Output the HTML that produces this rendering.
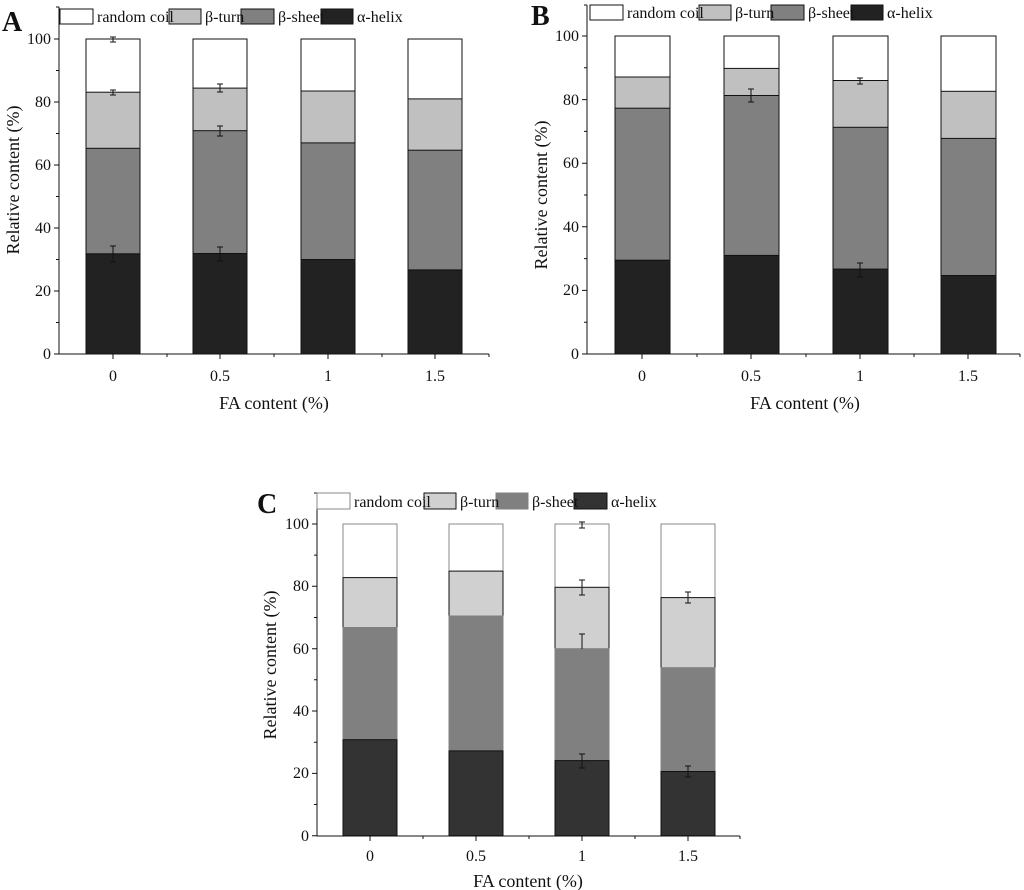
<!DOCTYPE html>
<html><head><meta charset="utf-8"><style>
html,body{margin:0;padding:0;background:#fff}
svg{display:block}
text{font-family:"Liberation Serif",serif;fill:#111}
</style></head><body>
<svg width="1024" height="890" viewBox="0 0 1024 890" xmlns="http://www.w3.org/2000/svg">
<g stroke="#111" stroke-width="1">
<!-- Panel A -->
<rect x="86" y="39" width="54" height="315" fill="#fff"/><rect x="86" y="92.2" width="54" height="261.8" fill="#c0c0c0"/><rect x="86" y="148.3" width="54" height="205.7" fill="#808080"/><rect x="86" y="253.8" width="54" height="100.2" fill="#222"/>
<rect x="193" y="39" width="54" height="315" fill="#fff"/><rect x="193" y="88.1" width="54" height="265.9" fill="#c0c0c0"/><rect x="193" y="130.7" width="54" height="223.3" fill="#808080"/><rect x="193" y="253.5" width="54" height="100.5" fill="#222"/>
<rect x="301" y="39" width="54" height="315" fill="#fff"/><rect x="301" y="91" width="54" height="263" fill="#c0c0c0"/><rect x="301" y="142.9" width="54" height="211.1" fill="#808080"/><rect x="301" y="259.5" width="54" height="94.5" fill="#222"/>
<rect x="408" y="39" width="54" height="315" fill="#fff"/><rect x="408" y="98.9" width="54" height="255.1" fill="#c0c0c0"/><rect x="408" y="150.2" width="54" height="203.8" fill="#808080"/><rect x="408" y="269.9" width="54" height="84.1" fill="#222"/>
<path d="M113 37v5M110 37h6M110 42h6M113 90v5M110 90h6M110 95h6M113 246v16M110 246h6M110 262h6M220 126v10M217 126h6M217 136h6M220 247v14M217 247h6M217 261h6M220 84v8M217 84h6M217 92h6"/>
<path d="M59 7V354H489" fill="none"/>
<path d="M59 354h-5M59 291h-5M59 228h-5M59 165h-5M59 102h-5M59 39h-5M59 322.5h-3M59 259.5h-3M59 196.5h-3M59 133.5h-3M59 70.5h-3M59 7h-3"/>
<path d="M113 354v5M220 354v5M328 354v5M435 354v5M167 354v3M274 354v3M382 354v3M489 354v3"/>
<rect x="60" y="9" width="33" height="15" fill="#fff"/><rect x="169" y="9" width="32" height="15" fill="#c0c0c0"/><rect x="241" y="9" width="33" height="15" fill="#808080"/><rect x="321" y="9" width="32" height="15" fill="#222"/>
<!-- Panel B -->
<rect x="615" y="36" width="55" height="318" fill="#fff"/><rect x="615" y="77" width="55" height="277" fill="#c0c0c0"/><rect x="615" y="108.2" width="55" height="245.8" fill="#808080"/><rect x="615" y="260.2" width="55" height="93.8" fill="#222"/>
<rect x="724" y="36" width="55" height="318" fill="#fff"/><rect x="724" y="68.4" width="55" height="285.6" fill="#c0c0c0"/><rect x="724" y="95.5" width="55" height="258.5" fill="#808080"/><rect x="724" y="255.4" width="55" height="98.6" fill="#222"/>
<rect x="833" y="36" width="55" height="318" fill="#fff"/><rect x="833" y="80.5" width="55" height="273.5" fill="#c0c0c0"/><rect x="833" y="127.3" width="55" height="226.7" fill="#808080"/><rect x="833" y="269.1" width="55" height="84.9" fill="#222"/>
<rect x="941" y="36" width="55" height="318" fill="#fff"/><rect x="941" y="91.3" width="55" height="262.7" fill="#c0c0c0"/><rect x="941" y="138.4" width="55" height="215.6" fill="#808080"/><rect x="941" y="275.5" width="55" height="78.5" fill="#222"/>
<path d="M751 89v13M748 89h6M748 102h6M860 263v14M857 263h6M857 277h6M860 78v6M857 78h6M857 84h6"/>
<path d="M587 5V354H1020" fill="none"/>
<path d="M587 354h-5M587 290.4h-5M587 226.8h-5M587 163.2h-5M587 99.6h-5M587 36h-5M587 322.2h-3M587 258.6h-3M587 195h-3M587 131.4h-3M587 67.8h-3M587 5h-3"/>
<path d="M642 354v5M751 354v5M860 354v5M968 354v5M697 354v3M806 354v3M914 354v3M1020 354v3"/>
<rect x="590" y="5" width="33" height="15" fill="#fff"/><rect x="699" y="5" width="32" height="15" fill="#c0c0c0"/><rect x="771" y="5" width="33" height="15" fill="#808080"/><rect x="851" y="5" width="32" height="15" fill="#222"/>
<!-- Panel C -->
<rect x="343" y="524" width="54" height="311.7" fill="#fff" stroke="#888"/><rect x="343" y="577.6" width="54" height="258.1" fill="#d0d0d0"/><rect x="343" y="627.5" width="54" height="208.2" fill="#808080" stroke="#808080"/><rect x="343" y="739.7" width="54" height="96" fill="#333"/>
<rect x="449" y="524" width="54" height="311.7" fill="#fff" stroke="#888"/><rect x="449" y="571.1" width="54" height="264.6" fill="#d0d0d0"/><rect x="449" y="616" width="54" height="219.7" fill="#808080" stroke="#808080"/><rect x="449" y="750.9" width="54" height="84.8" fill="#333"/>
<rect x="555" y="524" width="54" height="311.7" fill="#fff" stroke="#888"/><rect x="555" y="587.3" width="54" height="248.4" fill="#d0d0d0"/><rect x="555" y="648.7" width="54" height="187" fill="#808080" stroke="#808080"/><rect x="555" y="760.6" width="54" height="75.1" fill="#333"/>
<rect x="661" y="524" width="54" height="311.7" fill="#fff" stroke="#888"/><rect x="661" y="597.6" width="54" height="238.1" fill="#d0d0d0"/><rect x="661" y="667.7" width="54" height="168" fill="#808080" stroke="#808080"/><rect x="661" y="771.5" width="54" height="64.2" fill="#333"/>
<path d="M582 580v15M579 580h6M579 595h6M582 634v15M579 634h6M582 754v14M579 754h6M579 768h6M688 592v11M685 592h6M685 603h6M688 766v11M685 766h6M685 777h6M582 522v6M579 522h6M579 528h6"/>
<path d="M317 493V836H740" fill="none"/>
<path d="M317 835.7h-5M317 773.4h-5M317 711h-5M317 648.7h-5M317 586.3h-5M317 524h-5M317 804.5h-3M317 742.2h-3M317 679.8h-3M317 617.5h-3M317 555.1h-3M317 493h-3"/>
<path d="M370 836v5M476 836v5M582 836v5M688 836v5M423 836v3M529 836v3M635 836v3M740 836v3"/>
<rect x="317" y="493" width="33" height="16" fill="#fff" stroke="#888"/><rect x="424" y="493" width="32" height="16" fill="#d0d0d0"/><rect x="496" y="493" width="32" height="16" fill="#808080" stroke="#808080"/><rect x="574" y="493" width="33" height="16" fill="#333"/>
</g>
<g font-size="16">
<text x="97" y="22">random coil</text><text x="205" y="22">β-turn</text><text x="278" y="22">β-sheet</text><text x="357" y="22">α-helix</text>
<text x="627" y="18">random coil</text><text x="735" y="18">β-turn</text><text x="808" y="18">β-sheet</text><text x="887" y="18">α-helix</text>
<text x="354" y="507">random coil</text><text x="460" y="507">β-turn</text><text x="532" y="507">β-sheet</text><text x="611" y="507">α-helix</text>
</g>
<g font-size="16" text-anchor="end">
<text x="51" y="359">0</text><text x="51" y="296">20</text><text x="51" y="233">40</text><text x="51" y="170">60</text><text x="51" y="107">80</text><text x="51" y="44">100</text>
<text x="579" y="359">0</text><text x="579" y="295">20</text><text x="579" y="232">40</text><text x="579" y="168">60</text><text x="579" y="105">80</text><text x="579" y="41">100</text>
<text x="309" y="841">0</text><text x="309" y="778">20</text><text x="309" y="716">40</text><text x="309" y="654">60</text><text x="309" y="591">80</text><text x="309" y="529">100</text>
</g>
<g font-size="16" text-anchor="middle">
<text x="113" y="381">0</text><text x="220" y="381">0.5</text><text x="328" y="381">1</text><text x="435" y="381">1.5</text>
<text x="642" y="381">0</text><text x="751" y="381">0.5</text><text x="860" y="381">1</text><text x="968" y="381">1.5</text>
<text x="370" y="861">0</text><text x="476" y="861">0.5</text><text x="582" y="861">1</text><text x="688" y="861">1.5</text>
</g>
<g font-size="18" text-anchor="middle">
<text x="274" y="409">FA  content (%)</text>
<text x="805" y="409">FA content (%)</text>
<text x="528" y="887">FA content (%)</text>
<text transform="translate(19,180) rotate(-90)">Relative content (%)</text>
<text transform="translate(547,195) rotate(-90)">Relative content (%)</text>
<text transform="translate(276,665) rotate(-90)">Relative content (%)</text>
</g>
<g font-size="28" font-weight="bold">
<text x="2" y="31">A</text><text x="531" y="25">B</text><text x="257" y="513">C</text>
</g>
</svg>
</body></html>
